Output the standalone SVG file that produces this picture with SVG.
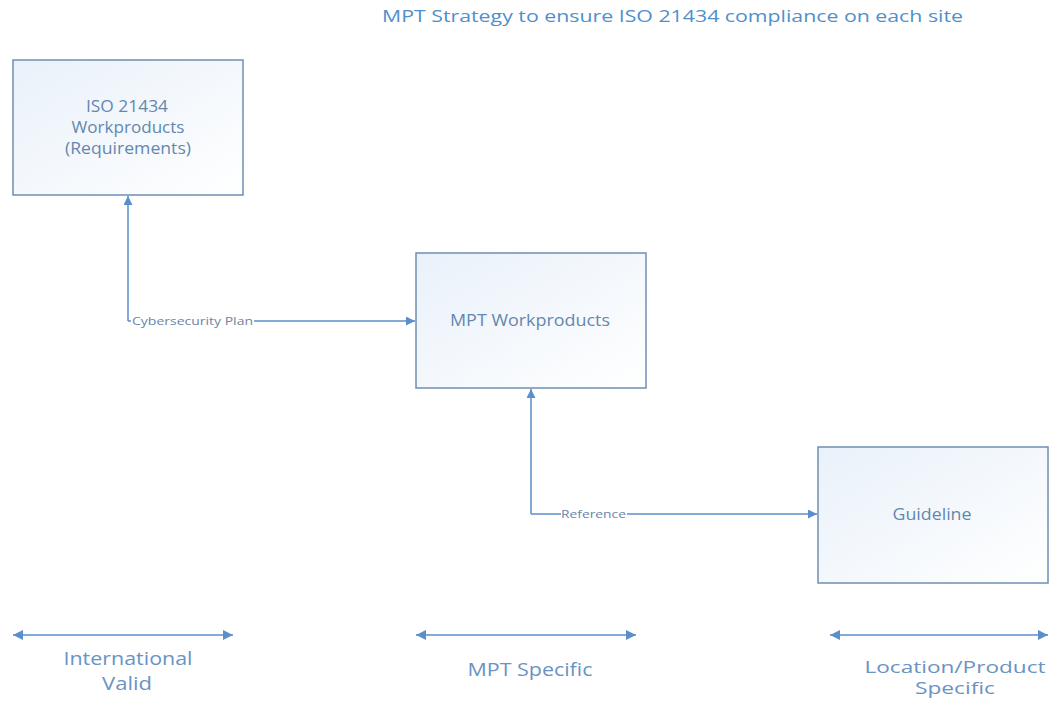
<svg xmlns="http://www.w3.org/2000/svg" width="1050" height="701" viewBox="0 0 1050 701">
  <style>
    .box { stroke: #6f8fb3; stroke-width: 1.5; fill: url(#boxFill); }
    .lbl { font-family: "Open Sans", "Liberation Sans", sans-serif; font-size: 16px; fill: #6487ae; text-anchor: middle; }
    .edge { stroke: #5b8fcb; stroke-width: 1.5; fill: none; }
    .elbl { font-family: "Open Sans", "Liberation Sans", sans-serif; font-size: 11px; fill: #6a86a6; }
    .title { font-family: "Open Sans", "Liberation Sans", sans-serif; font-size: 17px; fill: #4f8fca; }
    .scope { font-family: "Open Sans", "Liberation Sans", sans-serif; font-size: 18px; fill: #6a93c2; text-anchor: middle; }
    .scope-sm { font-size: 16px; }
  </style>
  <defs>
    <linearGradient id="boxFill" x1="0" y1="0" x2="1" y2="1">
      <stop offset="0" stop-color="#e9f1fa"/>
      <stop offset="1" stop-color="#ffffff"/>
    </linearGradient>
    <marker id="arr" viewBox="0 0 10 10" refX="10" refY="5" markerWidth="10" markerHeight="9" markerUnits="userSpaceOnUse" orient="auto-start-reverse">
      <path d="M0,0 L10,5 L0,10 z" fill="#5b8fcb"/>
    </marker>
    <marker id="arrBig" viewBox="0 0 10 10" refX="10" refY="5" markerWidth="12" markerHeight="10" markerUnits="userSpaceOnUse" orient="auto-start-reverse">
      <path d="M0,0 L10,5 L0,10 z" fill="#5b8fcb"/>
    </marker>
  </defs>

  <rect width="1050" height="701" fill="#ffffff"/>

  <text class="title" x="382" y="22" textLength="581" lengthAdjust="spacingAndGlyphs">MPT Strategy to ensure ISO 21434 compliance on each site</text>

  <g id="iso-workproducts">
    <rect class="box" x="13" y="60" width="230" height="135"/>
    <text class="lbl" x="127" y="112" textLength="82" lengthAdjust="spacingAndGlyphs">ISO 21434</text>
    <text class="lbl" x="128" y="133" textLength="113" lengthAdjust="spacingAndGlyphs">Workproducts</text>
    <text class="lbl" x="128" y="154" textLength="126" lengthAdjust="spacingAndGlyphs">(Requirements)</text>
  </g>

  <g id="mpt-workproducts">
    <rect class="box" x="416" y="253" width="230" height="135"/>
    <text class="lbl" x="530" y="326" textLength="160" lengthAdjust="spacingAndGlyphs">MPT Workproducts</text>
  </g>

  <g id="guideline">
    <rect class="box" x="818" y="447" width="230" height="136"/>
    <text class="lbl" x="932" y="520" textLength="79" lengthAdjust="spacingAndGlyphs">Guideline</text>
  </g>

  <g id="connectors">
    <path class="edge" d="M128,321 L128,196" marker-end="url(#arr)"/>
    <path class="edge" d="M128,321 L131,321 M254,321 L415,321" marker-end="url(#arr)"/>
    <text class="elbl" x="132" y="325" textLength="121" lengthAdjust="spacingAndGlyphs">Cybersecurity Plan</text>

    <path class="edge" d="M531,514 L531,389" marker-end="url(#arr)"/>
    <path class="edge" d="M531,514 L561,514 M627,514 L817,514" marker-end="url(#arr)"/>
    <text class="elbl" x="561" y="518" textLength="65" lengthAdjust="spacingAndGlyphs">Reference</text>

    <path class="edge" d="M13,635 L233,635" marker-start="url(#arrBig)" marker-end="url(#arrBig)"/>
    <path class="edge" d="M416,635 L636,635" marker-start="url(#arrBig)" marker-end="url(#arrBig)"/>
    <path class="edge" d="M830,635 L1048,635" marker-start="url(#arrBig)" marker-end="url(#arrBig)"/>
  </g>

  <text class="scope" x="128" y="665" textLength="129" lengthAdjust="spacingAndGlyphs">International</text>
  <text class="scope" x="127" y="690" textLength="50" lengthAdjust="spacingAndGlyphs">Valid</text>
  <text class="scope" x="530" y="676" textLength="125" lengthAdjust="spacingAndGlyphs">MPT Specific</text>
  <text class="scope scope-sm" x="955" y="673" textLength="181" lengthAdjust="spacingAndGlyphs">Location/Product</text>
  <text class="scope scope-sm" x="955" y="694" textLength="80" lengthAdjust="spacingAndGlyphs">Specific</text>
</svg>
